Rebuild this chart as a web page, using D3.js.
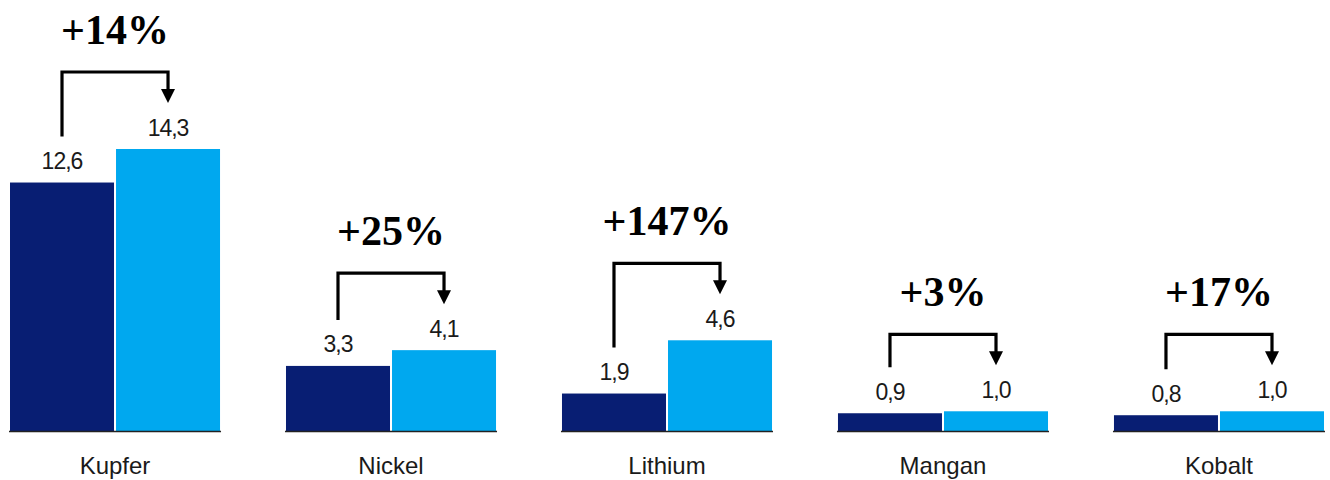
<!DOCTYPE html>
<html>
<head>
<meta charset="utf-8">
<script src="https://cdn.jsdelivr.net/npm/d3@7"></script>
<style>
  * { margin: 0; padding: 0; box-sizing: border-box; }
  body { background: #fff; }
  .value { font-family: "Liberation Sans", Arial, sans-serif; font-size: 23px; letter-spacing: -1px; fill: #1a1a1a; }
  .cat { font-family: "Liberation Sans", Arial, sans-serif; font-size: 24px; fill: #1a1a1a; }
  .pct { font-family: "Liberation Serif", "Times New Roman", serif; font-weight: bold; font-size: 42px; fill: #000; }
</style>
</head>
<body>
<svg id="chart"></svg>
<script>
  const categories = ["Kupfer", "Nickel", "Lithium", "Mangan", "Kobalt"];
  const series = ["before", "after"];
  const before = [12.6, 3.3, 1.9, 0.9, 0.8];
  const after = [14.3, 4.1, 4.6, 1.0, 1.0];
  const changes = ["+14%", "+25%", "+147%", "+3%", "+17%"];
  const colors = ["#081e73", "#00a8ef"];

  const w = 1330, h = 480;
  const base = 431;

  const svg = d3.select("#chart").attr("width", w).attr("height", h);

  const x = d3.scaleBand().domain(categories).range([10, 1324]).paddingInner(0.239).paddingOuter(0);
  const xs = d3.scaleBand().domain(series).range([0, x.bandwidth()]).paddingInner(0.019);
  const y = d3.scaleLinear().domain([0, 14.3]).range([base, 149]);

  const fmt = v => d3.format(".1f")(v).replace(".", ",");

  const rows = categories.map((c, i) => ({ cat: c, vals: [before[i], after[i]], change: changes[i] }));

  const g = svg.selectAll("g.group").data(rows).enter().append("g")
    .attr("class", "group")
    .attr("transform", d => `translate(${x(d.cat)},0)`);

  g.selectAll("rect").data(d => d.vals.map((v, j) => ({ key: series[j], v, j }))).enter().append("rect")
    .attr("x", d => xs(d.key))
    .attr("y", d => y(d.v))
    .attr("width", xs.bandwidth())
    .attr("height", d => base - y(d.v))
    .attr("fill", d => colors[d.j]);

  g.selectAll("text.value").data(d => d.vals.map((v, j) => ({ key: series[j], v }))).enter().append("text")
    .attr("class", "value")
    .attr("x", d => xs(d.key) + xs.bandwidth() / 2)
    .attr("y", d => y(d.v) - 13.5)
    .attr("text-anchor", "middle")
    .text(d => fmt(d.v));

  // baseline
  g.append("line")
    .attr("x1", -1).attr("x2", x.bandwidth() + 1)
    .attr("y1", base + 0.5).attr("y2", base + 0.5)
    .attr("stroke", "#222").attr("stroke-width", 1.6);

  // category label
  g.append("text")
    .attr("class", "cat")
    .attr("x", x.bandwidth() / 2)
    .attr("y", 474)
    .attr("text-anchor", "middle")
    .text(d => d.cat);

  // bracket arrows
  g.each(function (d) {
    const sel = d3.select(this);
    const x0 = xs("before") + xs.bandwidth() / 2;
    const x1 = xs("after") + xs.bandwidth() / 2;
    const top0 = y(d.vals[0]);
    const top1 = y(d.vals[1]);
    const hy = Math.min(top0, top1) - 77;
    const tip = top1 - 46;
    sel.append("path")
      .attr("d", `M${x0},${top0 - 46}V${hy}H${x1}V${tip - 12}`)
      .attr("fill", "none")
      .attr("stroke", "#000")
      .attr("stroke-width", 3.2);
    sel.append("path")
      .attr("d", `M${x1 - 7},${tip - 14}L${x1 + 7},${tip - 14}L${x1},${tip}Z`)
      .attr("fill", "#000");
    sel.append("text")
      .attr("class", "pct")
      .attr("x", (x0 + x1) / 2)
      .attr("y", hy - 28)
      .attr("text-anchor", "middle")
      .text(d.change);
  });
</script>
</body>
</html>
